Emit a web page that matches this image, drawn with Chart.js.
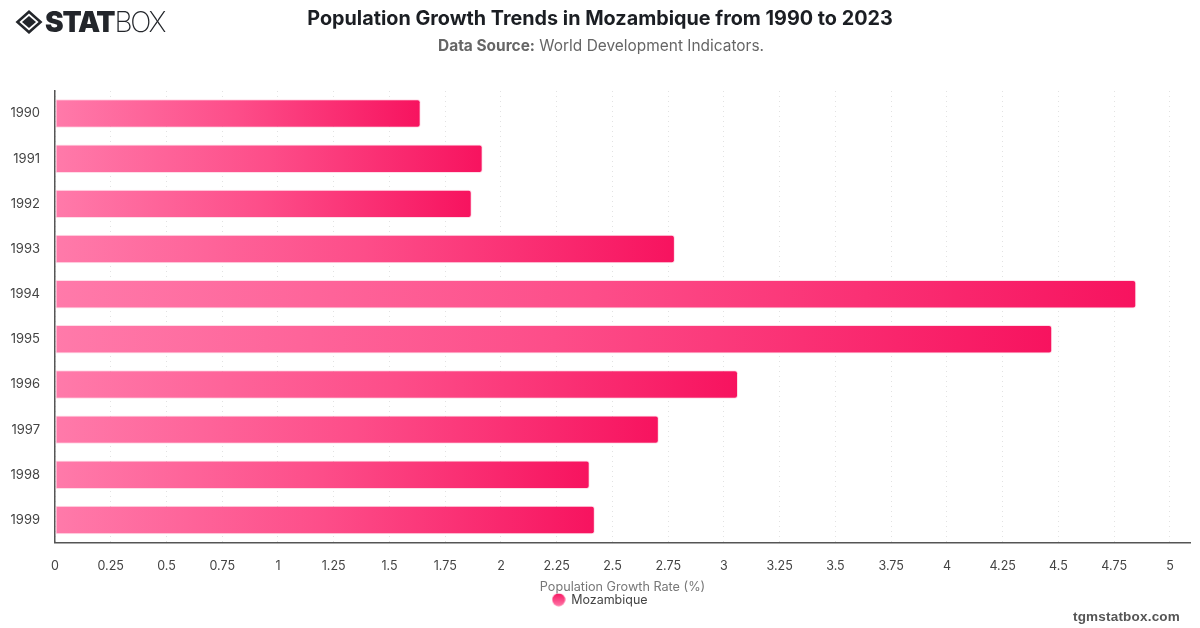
<!DOCTYPE html>
<html>
<head>
<meta charset="utf-8">
<title>Population Growth Trends in Mozambique</title>
<script src="https://cdn.jsdelivr.net/npm/chart.js@4"></script>
<style>
  html, body { margin: 0; padding: 0; background: #fff; }
  body { position: relative; width: 1200px; height: 628px; overflow: hidden; font-family: Inter, sans-serif; }
  canvas { position: absolute; left: 0; top: 0; }
  .title { position: absolute; left: 0; width: 1200px; top: 5px; text-align: center; font-size: 19.8px; line-height: 26px; font-weight: 700; color: #1b1e23; }
  .source { position: absolute; left: 1px; width: 1200px; top: 36px; text-align: center; font-size: 15.45px; line-height: 20px; color: #666; }
  .source b { font-weight: 700; }
  .logo { position: absolute; left: 15px; top: 8px; height: 28px; display: flex; align-items: center; color: #23262b; }
  .logo svg { margin-right: 2px; }
  .logo span { font-size: 28px; line-height: 28px; }
  .logo .heavy { font-weight: 900; letter-spacing: -1.2px; }
  .logo .thin { font-weight: 200; letter-spacing: -2.2px; }
  .site { position: absolute; right: 20px; top: 609px; font-family: "Liberation Sans", sans-serif; font-size: 13.5px; line-height: 16px; font-weight: 700; letter-spacing: 0.2px; color: #555; }
</style>
</head>
<body>
<canvas id="chart" width="1200" height="628"></canvas>
<div class="logo">
  <svg width="28" height="24" viewBox="0 0 28 24">
    <path d="M14 0 L27.5 12 L14 24 L0.5 12 Z M14 3.4 L4.4 12 L14 20.6 L23.6 12 Z" fill="#23262b" fill-rule="evenodd"/>
    <path d="M14 6 L21 12 L14 18 L7 12 Z" fill="#23262b"/>
  </svg>
  <span class="heavy">STAT</span><span class="thin">BOX</span>
</div>
<div class="title">Population Growth Trends in Mozambique from 1990 to 2023</div>
<div class="source"><b>Data Source:</b> World Development Indicators.</div>
<div class="site">tgmstatbox.com</div>
<script>
const years = ['1990', '1991', '1992', '1993', '1994', '1995', '1996', '1997', '1998', '1999'];
const growthRate = [1.64, 1.918, 1.869, 2.78, 4.849, 4.472, 3.063, 2.708, 2.398, 2.421];
const seriesName = 'Mozambique';
const axisTitle = 'Population Growth Rate (%)';

// every bar runs its own gradient, light at the axis and saturated at the tip
function barGradient(context) {
  const chart = context.chart;
  if (!chart.chartArea || context.raw === undefined) return '#f7135f';
  const x0 = chart.scales.x.getPixelForValue(0);
  const x1 = chart.scales.x.getPixelForValue(context.raw);
  const g = chart.ctx.createLinearGradient(x0, 0, x1, 0);
  g.addColorStop(0, '#ff7aaa');
  g.addColorStop(0.5, '#fd4d89');
  g.addColorStop(1, '#f7135f');
  return g;
}

// round legend marker
const marker = document.createElement('canvas');
marker.width = 14;
marker.height = 14;
const mctx = marker.getContext('2d');
const mg = mctx.createLinearGradient(0, 0, 0, 14);
mg.addColorStop(0, '#f7135f');
mg.addColorStop(1, '#ff7aaa');
mctx.fillStyle = mg;
mctx.beginPath();
mctx.arc(7, 7, 6.5, 0, Math.PI * 2);
mctx.fill();

new Chart(document.getElementById('chart'), {
  type: 'bar',
  data: {
    labels: years,
    datasets: [{
      label: seriesName,
      data: growthRate,
      backgroundColor: barGradient,
      borderColor: 'rgba(255, 170, 198, 0.4)',
      borderWidth: 1,
      borderSkipped: false,
      borderRadius: { topLeft: 0, bottomLeft: 0, topRight: 3, bottomRight: 3 },
      barPercentage: 0.63,
      categoryPercentage: 1,
      pointStyle: marker
    }]
  },
  options: {
    indexAxis: 'y',
    responsive: false,
    animation: false,
    layout: { padding: { top: 91, left: 10, right: 10, bottom: 12 } },
    scales: {
      x: {
        min: 0,
        max: 5.09,
        afterFit: function(axis) { axis.height = 51; },
        grid: { color: '#e2e2e2', tickLength: 0, drawTicks: false },
        border: { color: '#555555', width: 1.5, dash: [1, 4] },
        ticks: {
          stepSize: 0.25,
          includeBounds: false,
          autoSkip: false,
          maxRotation: 0,
          padding: 16,
          color: '#444444',
          font: { family: 'Inter', size: 12.5 },
          callback: function(value) { return String(+value.toFixed(2)); }
        },
        title: {
          display: true,
          text: axisTitle,
          color: '#777777',
          font: { family: 'Inter', size: 12.65 },
          padding: { top: 0, bottom: -1 }
        }
      },
      y: {
        afterFit: function(axis) { axis.width = 45; },
        grid: { display: false, drawTicks: false, tickLength: 0 },
        border: { color: '#555555', width: 1.5 },
        ticks: {
          padding: 15,
          color: '#444444',
          font: { family: 'Inter', size: 13 }
        }
      }
    },
    plugins: {
      tooltip: { enabled: false },
      legend: {
        position: 'bottom',
        labels: {
          usePointStyle: true,
          color: '#444444',
          padding: 0,
          boxWidth: 14,
          boxHeight: 14,
          font: { family: 'Inter', size: 12.5 }
        }
      }
    }
  }
});
</script>
</body>
</html>
